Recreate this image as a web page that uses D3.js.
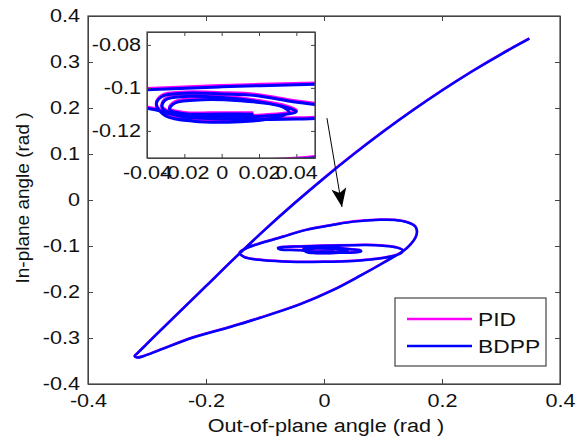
<!DOCTYPE html>
<html><head><meta charset="utf-8">
<script src="https://cdn.jsdelivr.net/npm/d3@7"></script>
<style>body{margin:0;background:#fff}svg{display:block}text{font-family:"Liberation Sans",Arial,sans-serif}</style>
</head><body><svg id="c" width="584" height="442"></svg>
<script>
// ---------- data ----------
const xTicks = [-0.4, -0.2, 0, 0.2, 0.4];
const yTicks = [-0.4, -0.3, -0.2, -0.1, 0, 0.1, 0.2, 0.3, 0.4];
const insetXTicks = [-0.04, -0.02, 0, 0.02, 0.04];
const insetYTicks = [-0.12, -0.1, -0.08];
const seriesNames = ["PID", "BDPP"];
const seriesColors = ["#ff00ff", "#0000ff"];

const bdppX = [0.348,0.30,0.25,0.20,0.15,0.10,0.05,0.00,-0.05,-0.10,-0.15,-0.20,-0.25,-0.29,-0.305,-0.316,-0.321,-0.317,-0.305,
  -0.28,-0.222,-0.159,-0.108,-0.041,0.015,0.061,0.10,0.141,0.157,0.155,0.14,0.12,0.095,0.05,0.016,-0.03,-0.07,-0.105,-0.13,
  -0.143,-0.135,-0.11,-0.07,0.0,0.05,0.10,0.128,0.134,0.124,0.10,0.072,0.05,0.0,-0.04,-0.065,-0.078,-0.074,
  -0.04,-0.02,0.01,0.04,0.055,0.063,0.059,0.05,0.035,0.018,0.0,-0.02,-0.032,-0.035,
  -0.03,-0.015,0.01,0.025,0.036,0.033,0.02,0.0,-0.02,-0.03,-0.032,
  -0.025,0.0,0.025,0.04,0.03,0.01,-0.01,-0.025,-0.028,-0.02,0.0,0.017];
const bdppY = [0.3506,0.3167,0.2788,0.238,0.1945,0.1483,0.0992,0.0474,-0.0072,-0.0645,-0.1249,-0.1874,-0.2499,-0.2999,-0.319,-0.333,-0.3395,-0.3425,-0.339,
  -0.327,-0.299,-0.276,-0.256,-0.227,-0.196,-0.165,-0.137,-0.104,-0.075,-0.058,-0.048,-0.0435,-0.043,-0.047,-0.054,-0.065,-0.080,-0.093,-0.104,
  -0.115,-0.124,-0.130,-0.1335,-0.1345,-0.1325,-0.126,-0.117,-0.110,-0.1035,-0.0995,-0.098,-0.0983,-0.0995,-0.1009,-0.102,-0.1045,-0.1075,
  -0.1095,-0.1135,-0.1145,-0.1145,-0.1138,-0.1115,-0.1088,-0.1078,-0.106,-0.1035,-0.1028,-0.1025,-0.104,-0.108,
  -0.113,-0.1155,-0.1157,-0.1145,-0.1115,-0.109,-0.1065,-0.1045,-0.104,-0.1055,-0.109,
  -0.1125,-0.1135,-0.113,-0.111,-0.108,-0.106,-0.1055,-0.107,-0.110,-0.112,-0.1121,-0.1122];

const pidX = [0.348,0.30,0.25,0.20,0.15,0.10,0.05,0.00,-0.05,-0.10,-0.15,-0.20,-0.25,-0.29,-0.305,-0.316,-0.321,-0.317,-0.305,
  -0.28,-0.222,-0.159,-0.108,-0.041,0.015,0.061,0.10,0.141,0.157,0.155,0.14,0.12,0.095,0.05,0.016,-0.03,-0.07,-0.105,-0.13,
  -0.143,-0.135,-0.11,-0.07,0.0,0.05,0.10,0.128,0.134,0.124,0.10,0.072,0.05,0.0,-0.04,-0.065,-0.078,-0.074,
  -0.04,-0.02,0.01,0.04,0.055,0.063,0.059,0.05,0.035,0.018,0.0,-0.02,-0.032,-0.035,
  -0.03,-0.015,0.01,0.025,0.036,0.033,0.02,0.0,-0.02,-0.03,-0.032,
  -0.025,0.0,0.025,0.04,0.03,0.01,-0.01,-0.025,-0.028,-0.02,0.0,0.017];
const pidY = [0.3512,0.3173,0.2794,0.2386,0.1951,0.1489,0.0998,0.0480,-0.0066,-0.0639,-0.1243,-0.1868,-0.2493,-0.2993,-0.3184,-0.3324,-0.3389,-0.3419,-0.3384,
  -0.3264,-0.2984,-0.2754,-0.2554,-0.2264,-0.1954,-0.1644,-0.1364,-0.1034,-0.0744,-0.0574,-0.0474,-0.0429,-0.0424,-0.0464,-0.0534,-0.0644,-0.0794,-0.0924,-0.1034,
  -0.1144,-0.1234,-0.1294,-0.1329,-0.1339,-0.1319,-0.1254,-0.1164,-0.1094,-0.1029,-0.0989,-0.0974,-0.0977,-0.0989,-0.1003,-0.1014,-0.1039,-0.1069,
  -0.1089,-0.1129,-0.1139,-0.1139,-0.1132,-0.1109,-0.1082,-0.1072,-0.1054,-0.1029,-0.1022,-0.1019,-0.1034,-0.1074,
  -0.1124,-0.1149,-0.1151,-0.1139,-0.1109,-0.1084,-0.1059,-0.1039,-0.1034,-0.1049,-0.1084,
  -0.1119,-0.1129,-0.1124,-0.1104,-0.1074,-0.1054,-0.1049,-0.1064,-0.1094,-0.1114,-0.1115,-0.1116];

// arrow annotation (data coords): tail, head
const arrowX = [0.005, 0.0305];
const arrowY = [0.178, -0.015];

// ---------- drawing ----------
const svg = d3.select("#c");
const fmt = d => (Math.round(d*1000)/1000).toString();
const axisColor = "#444";
const defs = svg.append("defs");

const x = d3.scaleLinear().domain([-0.4, 0.4]).range([88, 560]);
const y = d3.scaleLinear().domain([-0.4, 0.4]).range([384, 16]);

const series = [
  {name: seriesNames[0], color: seriesColors[0], xs: pidX, ys: pidY},
  {name: seriesNames[1], color: seriesColors[1], xs: bdppX, ys: bdppY}
];

defs.append("clipPath").attr("id","mainClip")
  .append("rect").attr("x",88).attr("y",16).attr("width",472).attr("height",368);

const mainG = svg.append("g").attr("clip-path","url(#mainClip)");
series.forEach(s => {
  const pts = s.xs.map((v,i)=>[v, s.ys[i]]);
  mainG.append("path").datum(pts)
    .attr("fill","none").attr("stroke", s.color).attr("stroke-width", 2.5)
    .attr("stroke-linejoin","round")
    .attr("d", d3.line().x(d=>x(d[0])).y(d=>y(d[1])).curve(d3.curveCatmullRom.alpha(0.5)));
});

function styleAxis(g){
  g.select(".domain").attr("stroke", axisColor);
  g.selectAll(".tick line").attr("stroke", axisColor);
  g.selectAll("text").attr("fill","#111").style("font-size","18px").attr("font-family","Liberation Sans, Arial, sans-serif");
}
svg.append("g").attr("transform","translate(0,384)")
  .call(d3.axisBottom(x).tickValues(xTicks).tickFormat(fmt).tickSizeInner(-5).tickSizeOuter(0).tickPadding(10)).call(styleAxis);
svg.append("g").attr("transform","translate(0,16)")
  .call(d3.axisTop(x).tickValues(xTicks).tickFormat("").tickSizeInner(-5).tickSizeOuter(0)).call(styleAxis);
svg.append("g").attr("transform","translate(88,0)")
  .call(d3.axisLeft(y).tickValues(yTicks).tickFormat(fmt).tickSizeInner(-5).tickSizeOuter(0).tickPadding(8)).call(styleAxis);
svg.append("g").attr("transform","translate(560,0)")
  .call(d3.axisRight(y).tickValues(yTicks).tickFormat("").tickSizeInner(-5).tickSizeOuter(0)).call(styleAxis);
svg.append("rect").attr("x",88).attr("y",16).attr("width",472).attr("height",368)
  .attr("fill","none").attr("stroke",axisColor).attr("stroke-width",1.2);

svg.append("text").attr("x",326).attr("y",432).attr("text-anchor","middle")
  .style("font-size","18px").attr("fill","#111").text("Out-of-plane angle (rad )");
svg.append("text").attr("class","ylab").attr("transform","translate(29,198) rotate(-90)").attr("text-anchor","middle")
  .style("font-size","19px").attr("fill","#111").text("In-plane angle  (rad )");

// arrow
defs.append("marker").attr("id","ah").attr("viewBox","0 0 20 16")
  .attr("refX",20).attr("refY",8).attr("markerWidth",20).attr("markerHeight",15)
  .attr("markerUnits","userSpaceOnUse").attr("orient","auto")
  .append("path").attr("d","M0,0 L20,8 L0,16 L5,8 Z").attr("fill","#000");
svg.append("line").attr("x1",x(arrowX[0])).attr("y1",y(arrowY[0])).attr("x2",x(arrowX[1])).attr("y2",y(arrowY[1]))
  .attr("stroke","#000").attr("stroke-width",1).attr("marker-end","url(#ah)");

// legend
const lg = svg.append("g");
lg.append("rect").attr("x",395).attr("y",298).attr("width",151).attr("height",68)
  .attr("fill","#fff").attr("stroke",axisColor).attr("stroke-width",1.2);
series.forEach((s,i)=>{
  const yy = 319 + i*27;
  lg.append("line").attr("x1",407).attr("x2",472).attr("y1",yy).attr("y2",yy)
    .attr("stroke",s.color).attr("stroke-width",2.4);
  lg.append("text").attr("x",478).attr("y",yy+7).style("font-size","19px").attr("fill","#111").text(s.name);
});

// inset
const ix = d3.scaleLinear().domain([-0.04, 0.05]).range([147, 315]);
const iy = d3.scaleLinear().domain([-0.1326, -0.074]).range([158, 32]);
svg.append("rect").attr("x",147).attr("y",32).attr("width",168).attr("height",126).attr("fill","#fff");
defs.append("clipPath").attr("id","insetClip")
  .append("rect").attr("x",147).attr("y",32).attr("width",168).attr("height",126);
const insG = svg.append("g").attr("clip-path","url(#insetClip)");
series.forEach(s => {
  const pts = s.xs.map((v,i)=>[v, s.ys[i]]);
  insG.append("path").datum(pts)
    .attr("fill","none").attr("stroke", s.color).attr("stroke-width", 3)
    .attr("stroke-linejoin","round")
    .attr("d", d3.line().x(d=>ix(d[0])).y(d=>iy(d[1])).curve(d3.curveCatmullRom.alpha(0.5)));
});
svg.append("g").attr("transform","translate(0,158)")
  .call(d3.axisBottom(ix).tickValues(insetXTicks).tickFormat(fmt).tickSizeInner(-4).tickSizeOuter(0).tickPadding(8)).call(styleAxis);
svg.append("g").attr("transform","translate(0,32)")
  .call(d3.axisTop(ix).tickValues(insetXTicks).tickFormat("").tickSizeInner(-4).tickSizeOuter(0)).call(styleAxis);
svg.append("g").attr("transform","translate(147,0)")
  .call(d3.axisLeft(iy).tickValues(insetYTicks).tickFormat(fmt).tickSizeInner(-4).tickSizeOuter(0).tickPadding(6)).call(styleAxis);
svg.append("g").attr("transform","translate(315,0)")
  .call(d3.axisRight(iy).tickValues(insetYTicks).tickFormat("").tickSizeInner(-4).tickSizeOuter(0)).call(styleAxis);
svg.append("rect").attr("x",147).attr("y",32).attr("width",168).attr("height",126)
  .attr("fill","none").attr("stroke",axisColor).attr("stroke-width",1.2);

// horizontal stretch of text to match the reference's wide glyphs
svg.selectAll("text").each(function(){
  if (this.classList.contains("ylab")) return;
  const w = this.getComputedTextLength();
  if (w > 0) d3.select(this).attr("textLength", w*1.2).attr("lengthAdjust","spacingAndGlyphs");
});
</script></body></html>
